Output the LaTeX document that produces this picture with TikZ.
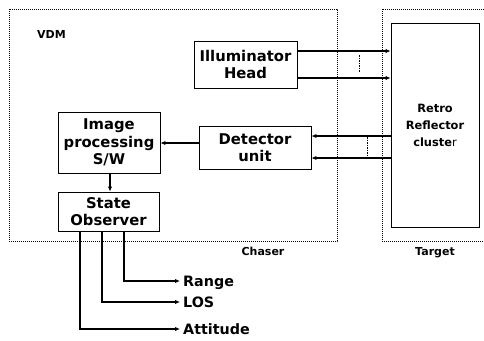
\documentclass[tikz,border=0pt]{standalone}
\usepackage{fontspec}
\setmainfont{DejaVu Sans}
\usetikzlibrary{arrows.meta}
\tikzset{
  blockbox/.style={draw, line width=0.9pt, align=center, inner sep=0pt,
    font=\fontsize{14.8}{17.5}\selectfont\bfseries},
  framebox/.style={line width=1pt, dash pattern=on 1.2pt off 0.8pt},
  flow/.style={line width=1.1pt, -{Latex[length=5pt,width=4.5pt]}},
  outlabel/.style={anchor=west, inner sep=3pt, text height=10pt, text depth=0pt,
    font=\fontsize{14.3}{17}\selectfont\bfseries},
  smalllabel/.style={inner sep=0pt, font=\fontsize{11}{17}\selectfont\bfseries},
  gapmark/.style={line width=0.8pt, dash pattern=on 1.5pt off 1pt},
}
\begin{document}
\begin{tikzpicture}[x=1pt,y=-1pt]
  \useasboundingbox (0,0) rectangle (484,340);
  \clip (0,0) rectangle (484,340);

  % chaser and target frames
  \draw[framebox] (9,9) rectangle (337,241);
  \draw[framebox] (382,9) rectangle (500,241);
  \node[smalllabel, anchor=base west] (vdm) at (37,38) {VDM};
  \node[smalllabel, anchor=base] (chaser) at (263,255) {Chaser};
  \node[smalllabel, anchor=base] (target) at (435,255) {Target};

  % blocks
  \node[blockbox, minimum width=103pt, minimum height=47pt] (illum) at (245.5,64.5) {Illuminator\\Head};
  \node[blockbox, minimum width=102pt, minimum height=61pt] (image) at (109,142.5) {Image\\processing\\S/W};
  \node[blockbox, minimum width=112pt, minimum height=43pt] (detect) at (255,147.5) {Detector\\unit};
  \node[blockbox, minimum width=101pt, minimum height=39pt] (state) at (108.5,211.5) {State\\Observer};
  \node[blockbox, minimum width=88pt, minimum height=204pt,
    font=\fontsize{11.4}{17}\selectfont\bfseries] (retro) at (435,125) {Retro\\Reflector\\cluste{\mdseries r}};

  % beams
  \foreach \y in {51,78}
    \draw[flow] (illum.east |- 0,\y) -- (retro.west |- 0,\y);
  \draw[gapmark] (359,55) -- (359,72);
  \draw[flow, line width=1.6pt] (retro.west |- 0,136) -- (detect.east |- 0,136);
  \draw[flow] (retro.west |- 0,158) -- (detect.east |- 0,158);
  \draw[gapmark] (367,137) -- (367,155);

  \draw[flow] (detect.west |- 0,143) -- (image.east |- 0,143);
  \draw[flow] (image.south -| 110,0) -- (state.north -| 110,0);

  % outputs
  \node[outlabel] (range) at (180,281) {Range};
  \node[outlabel] (los) at (180,302) {LOS};
  \node[outlabel] (att) at (180,329) {Attitude};
  \draw[flow] (state.south -| 124,0) |- (range.west);
  \draw[flow] (state.south -| 102,0) |- (los.west);
  \draw[flow] (state.south -| 80,0) |- (att.west);
\end{tikzpicture}
\end{document}
